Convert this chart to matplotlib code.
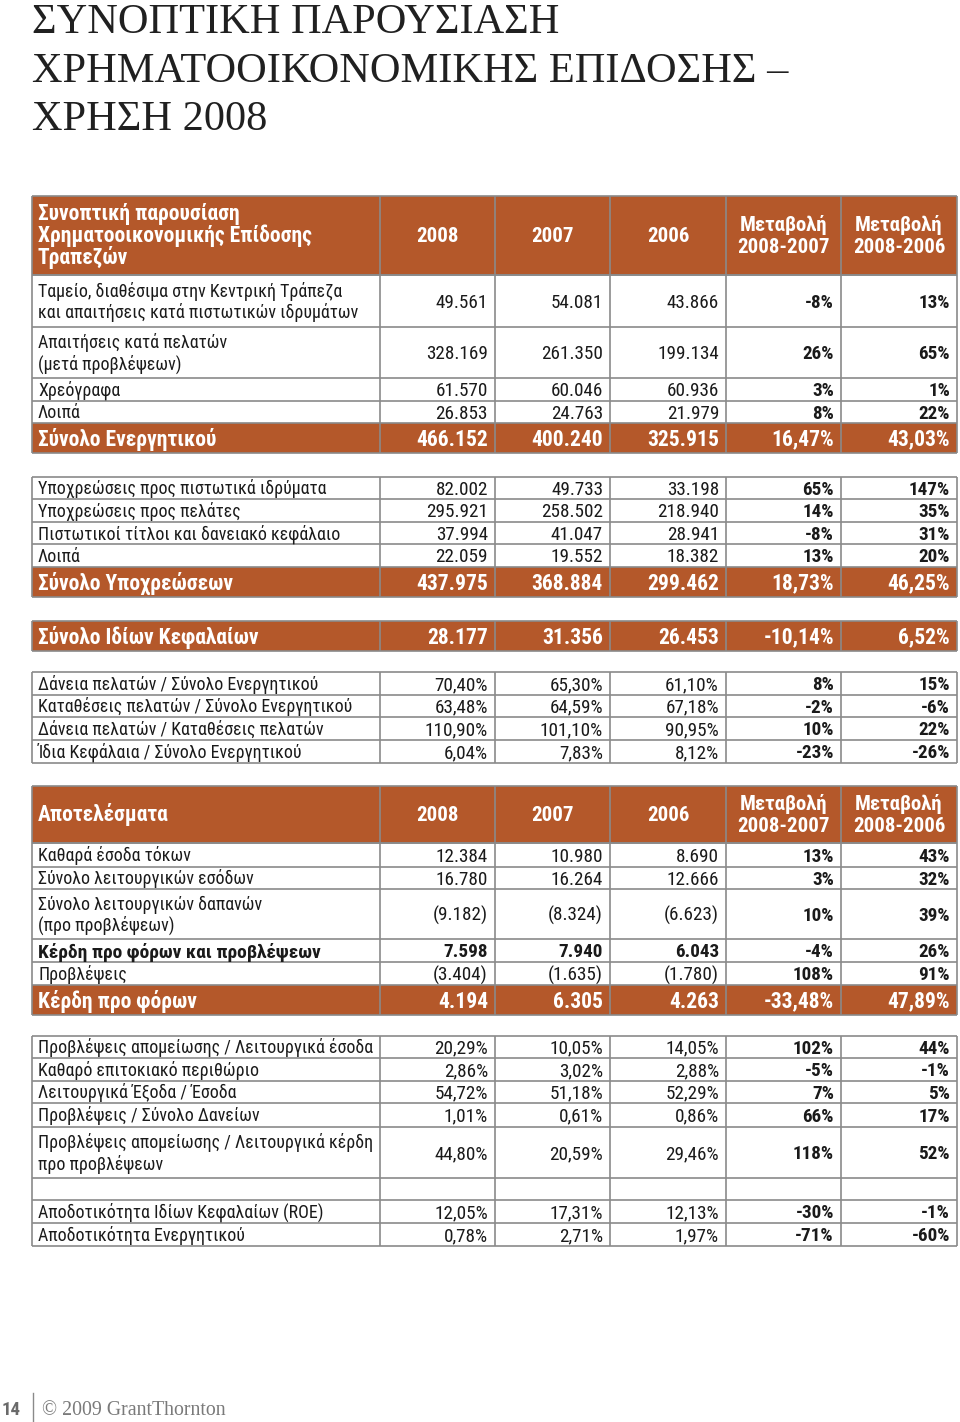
import matplotlib
matplotlib.use("Agg")
import matplotlib.pyplot as plt
from matplotlib.patches import Rectangle
from matplotlib import font_manager as fm


def find_file(name, weight):
    for f in fm.fontManager.ttflist:
        if f.name == name and f.style == "normal" and f.weight == weight and "[" not in f.fname:
            return f.fname
    return None


REG = find_file("Roboto Condensed", 400)
BLD = find_file("Roboto Condensed", 700)
NARROW = REG is not None and BLD is not None
SERIF = "Liberation Serif"

# ---------------- DATA ----------------
title_lines = ["ΣΥΝΟΠΤΙΚΗ ΠΑΡΟΥΣΙΑΣΗ", "ΧΡΗΜΑΤΟΟΙΚΟΝΟΜΙΚΗΣ ΕΠΙΔΟΣΗΣ –", "ΧΡΗΣΗ 2008"]
col_headers = ["2008", "2007", "2006", "Μεταβολή\n2008-2007", "Μεταβολή\n2008-2006"]
header1_title = "Συνοπτική παρουσίαση\nΧρηματοοικονομικής Επίδοσης\nΤραπεζών"
header2_title = "Αποτελέσματα"

assets_labels = ["Ταμείο, διαθέσιμα στην Κεντρική Τράπεζα\nκαι απαιτήσεις κατά πιστωτικών ιδρυμάτων",
                 "Απαιτήσεις κατά πελατών\n(μετά προβλέψεων)", "Χρεόγραφα", "Λοιπά", "Σύνολο Ενεργητικού"]
assets_2008 = [49561, 328169, 61570, 26853, 466152]
assets_2007 = [54081, 261350, 60046, 24763, 400240]
assets_2006 = [43866, 199134, 60936, 21979, 325915]
assets_chg_0807 = [-8, 26, 3, 8, 16.47]
assets_chg_0806 = [13, 65, 1, 22, 43.03]

liab_labels = ["Υποχρεώσεις προς πιστωτικά ιδρύματα", "Υποχρεώσεις προς πελάτες",
               "Πιστωτικοί τίτλοι και δανειακό κεφάλαιο", "Λοιπά", "Σύνολο Υποχρεώσεων"]
liab_2008 = [82002, 295921, 37994, 22059, 437975]
liab_2007 = [49733, 258502, 41047, 19552, 368884]
liab_2006 = [33198, 218940, 28941, 18382, 299462]
liab_chg_0807 = [65, 14, -8, 13, 18.73]
liab_chg_0806 = [147, 35, 31, 20, 46.25]

equity_labels = ["Σύνολο Ιδίων Κεφαλαίων"]
equity_2008 = [28177]
equity_2007 = [31356]
equity_2006 = [26453]
equity_chg_0807 = [-10.14]
equity_chg_0806 = [6.52]

bal_ratio_labels = ["Δάνεια πελατών / Σύνολο Ενεργητικού", "Καταθέσεις πελατών / Σύνολο Ενεργητικού",
                    "Δάνεια πελατών / Καταθέσεις πελατών", "Ίδια Κεφάλαια / Σύνολο Ενεργητικού"]
bal_ratio_2008 = [70.40, 63.48, 110.90, 6.04]
bal_ratio_2007 = [65.30, 64.59, 101.10, 7.83]
bal_ratio_2006 = [61.10, 67.18, 90.95, 8.12]
bal_ratio_chg_0807 = [8, -2, 10, -23]
bal_ratio_chg_0806 = [15, -6, 22, -26]

res_labels = ["Καθαρά έσοδα τόκων", "Σύνολο λειτουργικών εσόδων",
              "Σύνολο λειτουργικών δαπανών\n(προ προβλέψεων)", "Κέρδη προ φόρων και προβλέψεων",
              "Προβλέψεις", "Κέρδη προ φόρων"]
res_2008 = [12384, 16780, -9182, 7598, -3404, 4194]
res_2007 = [10980, 16264, -8324, 7940, -1635, 6305]
res_2006 = [8690, 12666, -6623, 6043, -1780, 4263]
res_chg_0807 = [13, 3, 10, -4, 108, -33.48]
res_chg_0806 = [43, 32, 39, 26, 91, 47.89]

perf_labels = ["Προβλέψεις απομείωσης / Λειτουργικά έσοδα", "Καθαρό επιτοκιακό περιθώριο",
               "Λειτουργικά Έξοδα / Έσοδα", "Προβλέψεις / Σύνολο Δανείων",
               "Προβλέψεις απομείωσης / Λειτουργικά κέρδη\nπρο προβλέψεων", "",
               "Αποδοτικότητα Ιδίων Κεφαλαίων (ROE)", "Αποδοτικότητα Ενεργητικού"]
perf_2008 = [20.29, 2.86, 54.72, 1.01, 44.80, None, 12.05, 0.78]
perf_2007 = [10.05, 3.02, 51.18, 0.61, 20.59, None, 17.31, 2.71]
perf_2006 = [14.05, 2.88, 52.29, 0.86, 29.46, None, 12.13, 1.97]
perf_chg_0807 = [102, -5, 7, 66, 118, None, -30, -71]
perf_chg_0806 = [44, -1, 5, 17, 52, None, -1, -60]

footer_page = "14"
footer_text = "© 2009 GrantThornton"

# ---------------- STYLE / LAYOUT ----------------
BROWN = "#B4582A"
GRID = "#8A8A8A"
TXT = "#1a1a1a"
col_edges = [32, 380, 495, 610, 726, 841, 957]

if NARROW:
    LABEL, BODY, BOLDROW, TOTAL, HEAD, HTITLE = 12.9, 13.8, 14.0, 15.5, 15.0, 15.5
else:
    LABEL, BODY, BOLDROW, TOTAL, HEAD, HTITLE = 12.2, 12.2, 12.2, 13.5, 13.0, 13.5


def fprops(size, bold):
    if NARROW:
        return fm.FontProperties(fname=BLD if bold else REG, size=size)
    return fm.FontProperties(family="Liberation Sans", weight="bold" if bold else "normal", size=size)


fig = plt.figure(figsize=(9.6, 14.22), dpi=100)
ax = fig.add_axes([0, 0, 1, 1])
ax.set_xlim(0, 960)
ax.set_ylim(1422, 0)
ax.axis("off")


def px(pt):
    return pt * 100 / 72.0


def put(x, yc, s, size, ha="left", bold=False, color=TXT, lh=21.5):
    lines = s.split("\n")
    n = len(lines)
    for k, line in enumerate(lines):
        y = yc + (k - (n - 1) / 2.0) * lh
        ax.text(x, y + 0.355 * px(size), line, ha=ha, va="baseline",
                fontproperties=fprops(size, bold), color=color)


def fmt_amt(v):
    s = f"{abs(v):,}".replace(",", ".")
    return f"({s})" if v < 0 else s


def fmt_pct(v, dec):
    return f"{v:.{dec}f}".replace(".", ",") + "%"


def grid(y_edges):
    top, bot = y_edges[0], y_edges[-1]
    for y in y_edges:
        ax.plot([col_edges[0], col_edges[-1]], [y, y], color=GRID, lw=1.2, solid_capstyle="butt")
    for x in col_edges:
        ax.plot([x, x], [top, bot], color=GRID, lw=1.2, solid_capstyle="butt")


def block(y_edges, labels, v08, v07, v06, c07, c06, kinds, kind_vals):
    for i, lab in enumerate(labels):
        top, bot = y_edges[i], y_edges[i + 1]
        yc = (top + bot) / 2.0
        kind = kinds[i]
        if kind == "total":
            ax.add_patch(Rectangle((col_edges[0], top), col_edges[-1] - col_edges[0], bot - top,
                                   facecolor=BROWN, edgecolor="none"))
            lsize, vsize, color, lb, vb = TOTAL, TOTAL, "white", True, True
        elif kind == "bold":
            lsize, vsize, color, lb, vb = BOLDROW, BODY, TXT, True, True
        else:
            lsize, vsize, color, lb, vb = LABEL, BODY, TXT, False, False
        if lab:
            put(col_edges[0] + 6, yc, lab, lsize, bold=lb, color=color)
        vals = [v08[i], v07[i], v06[i]]
        for j, v in enumerate(vals):
            if v is None:
                continue
            s = fmt_amt(v) if kind_vals == "amt" else fmt_pct(v, 2)
            put(col_edges[j + 2] - 7, yc, s, vsize, ha="right", bold=vb, color=color)
        for j, v in enumerate([c07[i], c06[i]]):
            if v is None:
                continue
            s = fmt_pct(v, 2 if kind == "total" else 0)
            put(col_edges[j + 5] - 7, yc, s, vsize, ha="right", bold=True, color=color)
    grid(y_edges)


def header(top, bot, title, title_lh, title_size):
    ax.add_patch(Rectangle((col_edges[0], top), col_edges[-1] - col_edges[0], bot - top,
                           facecolor=BROWN, edgecolor="none"))
    yc = (top + bot) / 2.0
    put(col_edges[0] + 6, yc - 1, title, title_size, bold=True, color="white", lh=title_lh)
    for j, h in enumerate(col_headers):
        xc = (col_edges[j + 1] + col_edges[j + 2]) / 2.0
        put(xc, yc - 1, h, HEAD, ha="center", bold=True, color="white", lh=22)
    grid([top, bot])


# Title
for k, t in enumerate(title_lines):
    ax.text(32, 33 + k * 48.5, t, fontsize=30.5, family=SERIF, color="#202020",
            ha="left", va="baseline")

# Balance sheet
header(196, 275, header1_title, 22, HTITLE)
block([275, 327, 378, 401, 423, 453], assets_labels, assets_2008, assets_2007, assets_2006,
      assets_chg_0807, assets_chg_0806, ["n", "n", "n", "n", "total"], "amt")
block([477, 499, 522, 544, 567, 597], liab_labels, liab_2008, liab_2007, liab_2006,
      liab_chg_0807, liab_chg_0806, ["n", "n", "n", "n", "total"], "amt")
block([621, 651], equity_labels, equity_2008, equity_2007, equity_2006,
      equity_chg_0807, equity_chg_0806, ["total"], "amt")
block([672, 695, 717, 740, 763], bal_ratio_labels, bal_ratio_2008, bal_ratio_2007, bal_ratio_2006,
      bal_ratio_chg_0807, bal_ratio_chg_0806, ["n"] * 4, "pct")

# Results
header(786, 843, header2_title, 22, TOTAL)
block([843, 867, 889, 939, 962, 985, 1015], res_labels, res_2008, res_2007, res_2006,
      res_chg_0807, res_chg_0806, ["n", "n", "n", "bold", "n", "total"], "amt")
block([1036, 1058, 1081, 1103, 1127, 1178, 1200, 1223, 1246], perf_labels, perf_2008, perf_2007,
      perf_2006, perf_chg_0807, perf_chg_0806, ["n"] * 8, "pct")

# Footer
ax.text(2, 1415, footer_page, fontproperties=fprops(13.5, True), color="#6a6a6a",
        ha="left", va="baseline")
ax.plot([33, 33], [1393, 1421], color="#8a8a8a", lw=1.0)
ax.text(42, 1415, footer_text, fontsize=14.3, family=SERIF, color="#7a7a7a",
        ha="left", va="baseline")

fig.savefig("out.png", dpi=100, facecolor="white")
